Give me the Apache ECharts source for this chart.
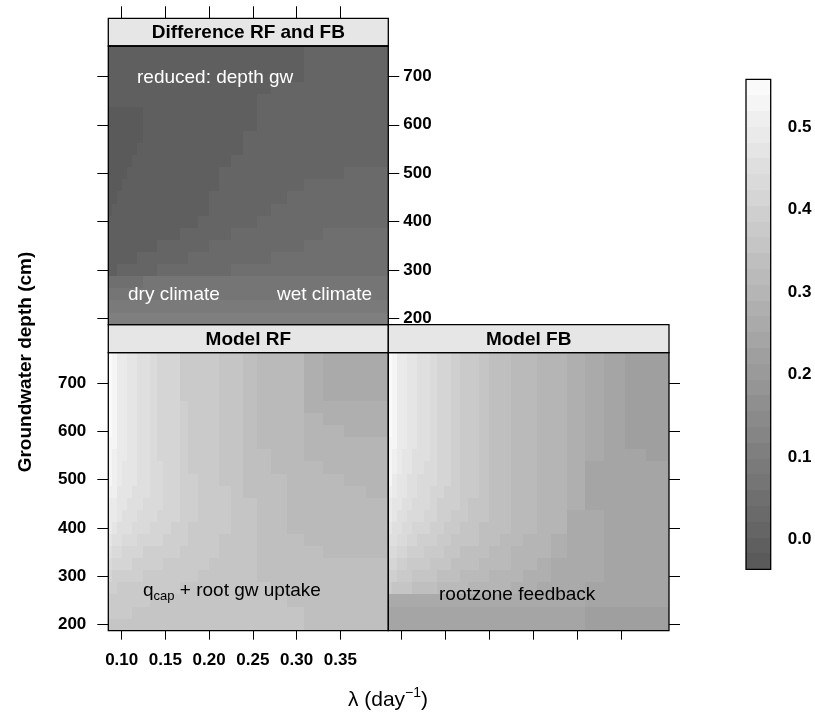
<!DOCTYPE html>
<html>
<head>
<meta charset="utf-8">
<title>Model RF and FB</title>
<script src="https://cdn.jsdelivr.net/npm/echarts@6/dist/echarts.min.js"></script>
<style>
  html, body { margin: 0; background: #fff; }
  #chart { width: 815px; height: 719px; }
</style>
</head>
<body>
<div id="chart"></div>
<script>
// cell edges along lambda (day^-1)
const lambdaEdges = [0.0847, 0.0892, 0.0950, 0.1007, 0.1064, 0.1121, 0.1178, 0.1249, 0.1324,
  0.1400, 0.1478, 0.1564, 0.1670, 0.1759, 0.1876, 0.1993, 0.2117, 0.2251, 0.2384, 0.2545,
  0.2708, 0.2888, 0.3089, 0.3307, 0.3543, 0.3792, 0.4049];
// groundwater depth of the cell rows (cm)
const depths = [200, 225, 250, 275, 300, 325, 350, 375, 400, 425, 450, 475, 500,
  525, 550, 575, 600, 625, 650, 675, 700, 725, 750];
const xTicks = [0.10, 0.15, 0.20, 0.25, 0.30, 0.35];
const yTicks = [200, 300, 400, 500, 600, 700];
const keyTicks = [0.0, 0.1, 0.2, 0.3, 0.4, 0.5];

// values in hundredths, rows from 750 cm (top) down to 200 cm (bottom)
const modelRF = [
  [54,52,50,50,48,48,46,46,44,42,42,41,38,38,37,37,35,35,33,32,31,31,28,27,27,26],
  [54,52,50,50,48,48,46,46,44,42,42,41,38,38,37,37,35,35,33,32,31,31,28,27,27,26],
  [54,52,50,50,48,48,46,46,44,42,42,41,38,38,37,37,35,35,33,32,31,31,28,27,27,26],
  [54,52,50,50,48,48,46,46,44,42,42,41,38,38,37,37,35,35,33,32,31,31,28,27,27,26],
  [54,52,50,50,48,48,46,46,44,42,42,41,39,38,37,37,35,35,33,32,31,31,28,28,28,28],
  [54,52,50,50,48,48,46,46,44,42,42,41,39,38,37,37,35,35,33,32,31,31,30,28,28,28],
  [54,52,50,49,48,47,46,46,44,42,42,41,39,38,37,37,35,35,33,32,31,31,30,29,28,28],
  [53,52,50,49,48,47,46,45,44,42,42,41,39,38,37,37,36,35,33,32,31,31,30,29,29,29],
  [53,51,50,49,47,47,46,45,44,42,42,41,39,38,37,37,36,35,34,33,32,31,30,30,29,29],
  [52,51,49,48,47,47,46,45,44,43,42,41,39,38,37,37,36,36,34,33,32,31,31,30,30,29],
  [52,51,49,48,47,47,46,45,44,43,42,41,40,39,38,37,36,36,34,33,33,31,31,31,30,30],
  [51,51,48,47,47,46,46,45,44,43,42,42,40,39,38,37,37,36,34,34,33,31,31,31,31,30],
  [50,50,48,47,46,46,45,44,43,43,42,41,40,39,38,37,37,36,35,34,33,32,31,31,31,31],
  [50,49,47,46,46,45,44,44,43,42,41,41,40,39,38,37,37,36,35,34,33,32,32,31,31,31],
  [49,47,46,45,45,44,43,43,42,41,41,40,39,38,38,37,37,36,35,34,33,32,32,32,31,31],
  [47,46,45,44,43,43,42,42,41,41,40,40,39,38,37,37,36,36,35,34,33,33,32,32,32,32],
  [45,44,43,42,42,41,41,40,40,40,39,39,38,38,37,37,36,36,35,34,34,33,33,32,32,32],
  [43,42,42,41,41,40,40,39,39,39,38,38,38,37,37,36,36,35,35,34,34,33,33,33,33,33],
  [41,40,40,40,39,39,39,38,38,38,38,37,37,37,36,36,36,35,35,34,34,34,33,33,33,33],
  [39,39,38,38,38,38,37,37,37,37,37,37,36,36,36,36,35,35,35,35,34,34,34,34,34,33],
  [38,37,37,37,37,37,37,37,36,36,36,36,36,36,36,35,35,35,35,35,35,34,34,34,34,34],
  [37,37,37,37,37,36,36,36,36,36,36,36,36,36,35,35,35,35,35,35,35,35,34,34,34,34],
  [36,36,36,36,36,36,36,36,36,36,36,36,36,36,35,35,35,35,35,35,35,35,34,34,34,34]
];
const modelFB = [
  [54,52,50,50,48,48,46,46,44,42,42,40,38,38,36,34,34,32,32,30,30,28,26,25,23,23],
  [54,52,50,50,48,48,46,46,44,42,42,40,38,38,36,34,34,32,32,30,30,28,26,25,23,23],
  [54,52,50,50,48,48,46,46,44,42,42,40,38,38,36,34,34,32,32,30,30,28,26,25,23,23],
  [54,52,50,50,48,48,46,46,44,42,42,40,38,38,36,34,34,32,32,30,30,28,26,25,23,23],
  [54,52,50,50,48,48,46,46,44,42,42,40,38,38,36,34,34,32,32,30,30,28,26,25,23,23],
  [54,52,50,50,48,48,46,46,44,42,42,40,38,38,36,34,34,32,32,30,30,28,26,25,23,23],
  [54,52,50,49,48,47,46,46,44,42,42,40,38,38,36,34,34,32,32,30,30,28,26,25,23,23],
  [53,52,50,49,47,47,46,45,44,42,41,40,38,37,36,34,34,32,32,30,30,28,26,25,23,23],
  [53,51,49,48,47,46,45,45,43,42,41,40,38,37,36,34,34,32,32,30,30,28,26,25,24,23],
  [52,51,49,48,47,46,45,44,43,42,41,40,38,37,36,34,34,32,32,30,30,28,25,25,24,24],
  [52,50,48,47,46,45,44,44,43,41,41,39,38,37,36,34,34,32,32,30,30,28,25,25,24,24],
  [51,49,47,47,46,45,44,43,42,41,40,39,38,37,36,34,34,32,32,30,29,28,25,25,24,24],
  [50,48,47,46,45,44,43,43,42,40,40,39,37,36,35,34,33,32,31,30,29,28,25,25,24,24],
  [49,47,46,45,44,43,43,42,41,40,39,38,37,36,35,33,33,32,31,29,29,27,26,25,24,24],
  [48,46,45,44,43,42,42,41,40,39,38,37,36,35,34,33,33,31,31,29,29,27,26,25,24,24],
  [46,45,44,43,42,41,40,40,39,38,37,36,35,35,34,33,32,31,30,29,28,27,26,25,24,24],
  [44,43,42,41,40,40,39,38,37,37,36,35,34,34,33,32,32,30,30,29,28,27,26,25,24,24],
  [42,41,40,39,38,38,37,37,36,35,35,34,33,33,32,31,31,30,29,28,27,27,26,25,24,24],
  [40,39,38,37,37,36,36,35,35,34,33,33,32,32,31,30,30,29,28,28,27,26,26,25,24,24],
  [37,36,36,35,35,34,34,33,33,32,32,31,31,30,30,29,29,28,28,27,27,26,25,25,24,24],
  [26,26,26,26,26,26,26,26,27,27,27,27,27,27,27,27,27,27,27,27,26,26,25,25,24,24],
  [24,24,24,24,24,24,24,24,24,24,24,24,24,24,24,24,24,24,24,24,24,24,23,23,23,23],
  [24,24,24,24,24,24,24,24,24,24,24,24,24,24,24,24,24,24,24,24,24,24,23,23,23,23]
];
const diffRFFB = [
  [-1,-1,-1,-1,-1,-1,-1,-1,0,0,0,0,0,0,0,0,0,0,0,0,0,0,1,1,2,2],
  [-1,-1,-1,-1,-1,-1,-1,-1,0,0,0,0,0,0,0,0,0,0,0,0,0,0,1,1,2,2],
  [-1,-1,-1,-1,-1,-1,-1,-1,0,0,0,0,0,0,0,0,0,0,0,0,0,0,1,2,2,2],
  [-1,-1,-1,-1,-1,-1,-1,-1,0,0,0,0,0,0,0,0,0,0,0,0,1,1,2,2,2,2],
  [-1,-1,-1,-1,-1,-1,-1,-1,-1,0,0,0,0,0,0,0,0,0,0,1,1,1,2,2,2,2],
  [-2,-2,-2,-2,-2,-2,-2,-1,-1,-1,0,0,0,0,0,0,0,0,0,1,1,2,2,2,2,2],
  [-2,-2,-2,-2,-2,-2,-2,-1,-1,-1,0,0,0,0,0,0,0,0,0,1,1,2,2,2,2,2],
  [-2,-2,-2,-2,-2,-2,-2,-1,-1,-1,-1,0,0,0,0,0,0,0,1,1,1,2,2,2,2,2],
  [-2,-2,-2,-2,-2,-2,-1,-1,-1,-1,-1,0,0,0,0,0,0,0,1,1,2,2,2,2,2,2],
  [-2,-2,-2,-2,-2,-1,-1,-1,-1,-1,0,0,0,0,0,0,0,1,1,2,2,2,2,2,2,2],
  [-2,-2,-2,-2,-1,-1,-1,-1,-1,0,0,0,0,0,0,0,1,1,2,2,2,2,2,2,3,3],
  [-2,-2,-2,-1,-1,-1,-1,-1,0,0,0,0,0,0,0,0,1,2,2,2,2,2,3,3,3,3],
  [-2,-2,-1,-1,-1,-1,-1,0,0,0,0,0,0,0,0,1,2,2,2,2,2,3,3,3,3,3],
  [-2,-1,-1,-1,-1,-1,0,0,0,0,0,0,0,0,0,1,2,2,2,2,3,3,3,3,3,3],
  [-1,-1,-1,-1,-1,0,0,0,0,0,0,0,0,0,1,2,2,2,2,3,3,3,3,3,3,3],
  [-1,-1,-1,-1,0,0,0,0,0,0,0,0,1,2,2,2,2,3,3,3,3,3,3,5,5,5],
  [-1,-1,-1,0,0,0,0,0,0,1,2,2,2,2,2,3,3,3,3,3,3,3,5,5,5,5],
  [-1,0,0,0,0,0,1,2,2,2,2,2,2,3,3,3,3,3,3,3,5,5,5,5,5,5],
  [0,0,1,2,2,2,2,2,2,3,3,3,3,3,3,3,3,5,5,5,5,5,5,5,5,5],
  [5,5,5,5,5,5,5,6,7,7,7,7,7,7,7,7,7,7,7,7,7,7,7,7,7,7],
  [7,7,7,7,7,7,7,7,7,7,7,7,7,7,7,7,7,7,7,7,7,7,7,7,7,7],
  [9,9,9,9,9,9,9,9,9,9,9,9,9,9,9,9,9,9,9,9,9,9,9,9,9,9],
  [10,10,10,10,10,10,10,10,10,10,10,10,10,10,10,10,10,10,10,10,10,10,10,10,10,10]
];

// colour key: grey levels between keyMin and keyMax
const keyMin = -0.036, keyMax = 0.558, nBands = 31;
const bandStep = (keyMax - keyMin) / nBands;

const FONT = "'Liberation Sans', Arial, Helvetica, sans-serif";

// [lambda0, lambda1, depth0, depth1, value]
function toCells(rows) {
  const half = (depths[1] - depths[0]) / 2;
  const out = [];
  rows.forEach(function (row, i) {
    const d = depths[depths.length - 1 - i];
    row.forEach(function (v, j) {
      out.push([lambdaEdges[j], lambdaEdges[j + 1], d - half, d + half, v / 100]);
    });
  });
  return out;
}

const pieces = [];
const keyCells = [];
for (let k = 0; k < nBands; k++) {
  const g = Math.round(90 + k * 160 / (nBands - 1));
  const lo = keyMin + k * bandStep;
  const hi = k === nBands - 1 ? keyMax : keyMin + (k + 1) * bandStep;
  pieces.push({ gte: lo, lt: k === nBands - 1 ? 10 : hi, color: 'rgb(' + g + ',' + g + ',' + g + ')' });
  keyCells.push([0, 1, lo, hi, (lo + hi) / 2]);
}
pieces[0].gte = -10;

// cells snapped to whole pixels so neighbours meet without seams
function renderCell(params, api) {
  const p0 = api.coord([api.value(0), api.value(3)]);
  const p1 = api.coord([api.value(1), api.value(2)]);
  const x0 = Math.round(p0[0]), x1 = Math.round(p1[0]);
  const y0 = Math.round(p0[1]), y1 = Math.round(p1[1]);
  return {
    type: 'rect',
    shape: { x: x0, y: y0, width: x1 - x0, height: y1 - y0 },
    style: { fill: api.visual('color'), stroke: null }
  };
}

const tickStyle = { color: '#000', width: 1 };
const labelStyle = { color: '#000', fontFamily: FONT, fontWeight: 'bold', fontSize: 17 };

function xAxisOf(grid, extra) {
  return Object.assign({
    type: 'value', gridIndex: grid, min: lambdaEdges[0], max: lambdaEdges[lambdaEdges.length - 1],
    axisLine: { show: false }, splitLine: { show: false },
    axisTick: { show: true, length: 9, lineStyle: tickStyle, customValues: xTicks },
    axisLabel: { show: false }
  }, extra);
}
function yAxisOf(grid, pos, extra) {
  return Object.assign({
    type: 'value', gridIndex: grid, position: pos, min: 187.5, max: 762.5,
    axisLine: { show: false }, splitLine: { show: false },
    axisTick: { show: true, length: 11, lineStyle: tickStyle, customValues: yTicks },
    axisLabel: { show: false }
  }, extra);
}

const panels = [
  { x: 108.3, y: 46, w: 280, h: 278.7 },
  { x: 108.3, y: 352.7, w: 280, h: 278 },
  { x: 388.3, y: 352.7, w: 280.7, h: 278 }
];
const strips = [
  { x: 108.3, y: 18.3, w: 280, h: 27.7, text: 'Difference RF and FB' },
  { x: 108.3, y: 324.7, w: 280, h: 28, text: 'Model RF' },
  { x: 388.3, y: 324.7, w: 280.7, h: 28, text: 'Model FB' }
];
const keyBox = { x: 746, y: 79.3, w: 24.7, h: 490 };

const graphics = [];
strips.forEach(function (s) {
  graphics.push({ type: 'rect', z: 100, shape: { x: s.x, y: s.y, width: s.w, height: s.h },
    style: { fill: '#e6e6e6', stroke: '#000', lineWidth: 1.3 } });
  graphics.push({ type: 'text', z: 101, x: s.x + s.w / 2, y: s.y + s.h / 2 + 1,
    style: { text: s.text, fill: '#000', font: 'bold 19px ' + FONT,
      align: 'center', verticalAlign: 'middle', textAlign: 'center', textVerticalAlign: 'middle' } });
});
panels.concat([keyBox]).forEach(function (p) {
  graphics.push({ type: 'rect', z: 100, shape: { x: p.x, y: p.y, width: p.w, height: p.h },
    style: { fill: 'none', stroke: '#000', lineWidth: 1.3 } });
});
function note(x, y, text, fill, rich) {
  graphics.push({ type: 'text', z: 101, x: x, y: y,
    style: { text: text, fill: fill, font: '19px ' + FONT, rich: rich,
      align: 'left', verticalAlign: 'middle', textAlign: 'left', textVerticalAlign: 'middle' } });
}
note(137, 78, 'reduced: depth gw', '#fff');
note(128, 295, 'dry climate', '#fff');
note(277, 295, 'wet climate', '#fff');
note(143, 591, '{m|q}{s|cap}{m| + root gw uptake}', '#000', {
  m: { fontSize: 19, fontFamily: FONT, lineHeight: 24, verticalAlign: 'middle', fill: '#000' },
  s: { fontSize: 13, fontFamily: FONT, lineHeight: 14, verticalAlign: 'bottom', fill: '#000' }
});
note(439, 595, 'rootzone feedback', '#000');

graphics.push({ type: 'text', z: 101, x: 26, y: 362, rotation: Math.PI / 2,
  style: { text: 'Groundwater depth (cm)', fill: '#000', font: 'bold 19px ' + FONT,
    align: 'center', verticalAlign: 'middle', textAlign: 'center', textVerticalAlign: 'middle' } });
graphics.push({ type: 'text', z: 101, x: 388, y: 700,
  style: { text: '{m|λ (day}{s|−1}{m|)}', fill: '#000',
    align: 'center', verticalAlign: 'middle', textAlign: 'center', textVerticalAlign: 'middle',
    rich: {
      m: { fontSize: 21, fontFamily: FONT, lineHeight: 27, verticalAlign: 'middle', fill: '#000' },
      s: { fontSize: 14, fontFamily: FONT, lineHeight: 15, verticalAlign: 'top', fill: '#000' }
    } } });

const chart = echarts.init(document.getElementById('chart'), null, { renderer: 'canvas' });

const option = {
  animation: false,
  backgroundColor: '#fff',
  grid: panels.concat([keyBox]).map(function (p) {
    return { left: p.x, top: p.y, width: p.w, height: p.h, containLabel: false, outerBoundsMode: 'none' };
  }),
  xAxis: [
    xAxisOf(0, { position: 'top', offset: 27.7, axisTick: { show: true, length: 12, lineStyle: tickStyle, customValues: xTicks } }),
    xAxisOf(1, { position: 'bottom', axisLabel: Object.assign({ show: true, margin: 21, customValues: xTicks,
      formatter: function (v) { return v.toFixed(2); } }, labelStyle) }),
    xAxisOf(2, { position: 'bottom' }),
    { type: 'value', gridIndex: 3, min: 0, max: 1, show: false }
  ],
  yAxis: [
    yAxisOf(0, 'left'),
    yAxisOf(0, 'right', { axisLabel: Object.assign({ show: true, margin: 15, customValues: yTicks }, labelStyle) }),
    yAxisOf(1, 'left', { axisLabel: Object.assign({ show: true, margin: 22, customValues: yTicks }, labelStyle) }),
    yAxisOf(2, 'right'),
    { type: 'value', gridIndex: 3, position: 'right', min: keyMin, max: keyMax,
      axisLine: { show: false }, splitLine: { show: false },
      axisTick: { show: true, length: 7, lineStyle: tickStyle, customValues: keyTicks },
      axisLabel: Object.assign({ show: true, margin: 17, customValues: keyTicks,
        formatter: function (v) { return v.toFixed(1); } }, labelStyle) }
  ],
  visualMap: {
    type: 'piecewise', show: false, dimension: 4, seriesIndex: [0, 1, 2, 3], pieces: pieces
  },
  series: [
    { type: 'custom', name: 'Difference RF and FB', xAxisIndex: 0, yAxisIndex: 0,
      renderItem: renderCell, encode: { x: [0, 1], y: [2, 3] }, data: toCells(diffRFFB) },
    { type: 'custom', name: 'Model RF', xAxisIndex: 1, yAxisIndex: 2,
      renderItem: renderCell, encode: { x: [0, 1], y: [2, 3] }, data: toCells(modelRF) },
    { type: 'custom', name: 'Model FB', xAxisIndex: 2, yAxisIndex: 3,
      renderItem: renderCell, encode: { x: [0, 1], y: [2, 3] }, data: toCells(modelFB) },
    { type: 'custom', name: 'key', xAxisIndex: 3, yAxisIndex: 4,
      renderItem: renderCell, encode: { x: [0, 1], y: [2, 3] }, data: keyCells }
  ],
  graphic: graphics
};

chart.setOption(option);
</script>
</body>
</html>
